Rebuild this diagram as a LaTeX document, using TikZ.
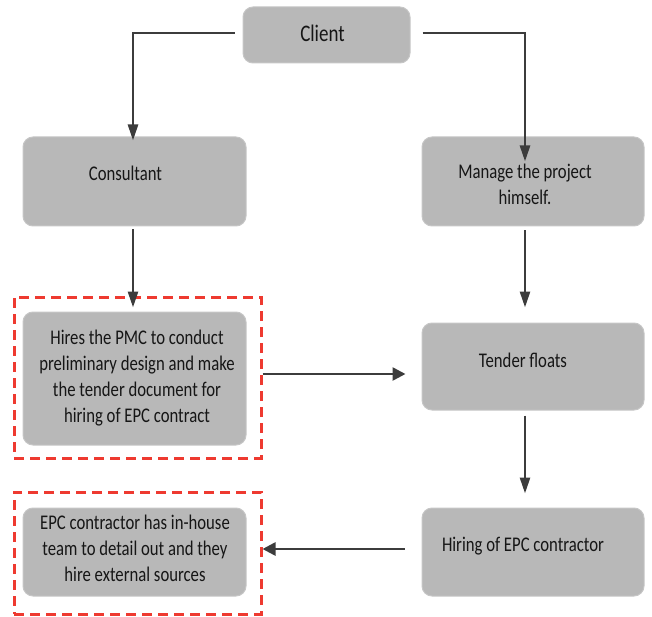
\documentclass[tikz,border=0pt]{standalone}
\usepackage{fontspec}
\setmainfont{Carlito}
\usepackage{graphicx}
\usetikzlibrary{arrows.meta}

\definecolor{boxfill}{HTML}{B8B8B8}
\definecolor{boxedge}{HTML}{C6C6C6}
\definecolor{arrowgray}{HTML}{3C3C3C}
\definecolor{dashred}{HTML}{EE3A30}
\definecolor{inkdark}{HTML}{161616}

% text set slightly tall, as in the chart's typeface
\newcommand\talltext[1]{\scalebox{1}[1.25]{\begin{tabular}{@{}c@{}}#1\end{tabular}}}

\tikzset{
  stepbox/.style={rectangle, rounded corners=10pt, fill=boxfill, draw=boxedge,
    line width=1pt, inner sep=0pt},
  steptext/.style={inner sep=0pt, text=inkdark,
    font=\fontsize{16.7}{20.8}\selectfont},
  groupbox/.style={rectangle, draw=dashred, line width=3pt,
    dash pattern=on 10pt off 6pt, inner sep=0pt},
  flow/.style={draw=arrowgray, line width=2.6pt},
  downarrow/.style={flow, -{Triangle[length=16pt,width=10pt]}},
  sidearrow/.style={flow, -{Triangle[length=13pt,width=13pt]}},
}

\begin{document}
\begin{tikzpicture}[x=1pt, y=-1pt]
\useasboundingbox (0,0) rectangle (652,617);

% main boxes
\node[stepbox, minimum width=167pt, minimum height=56pt] (client) at (326.5,35) {};
\node[stepbox, minimum width=223pt, minimum height=89pt] (consultant) at (134.5,181.5) {};
\node[stepbox, minimum width=222pt, minimum height=89pt] (manage) at (533,181.5) {};
\node[stepbox, minimum width=223pt, minimum height=133pt] (hires) at (134.5,378.5) {};
\node[stepbox, minimum width=222pt, minimum height=87pt] (tender) at (533,366.5) {};
\node[stepbox, minimum width=222pt, minimum height=88pt] (hiring) at (533,552) {};
\node[stepbox, minimum width=223pt, minimum height=88pt] (epc) at (134.5,552) {};

% box texts
\node[steptext, font=\fontsize{19}{23}\selectfont] (client-t) at ([shift={(-4,1)}]client.center) {\talltext{Client}};
\node[steptext] (consultant-t) at ([shift={(-9,-6.5)}]consultant.center) {\talltext{Consultant}};
\node[steptext] (manage-t) at ([shift={(-8,5)}]manage.center) {\talltext{Manage the project\\himself.}};
\node[steptext] (hires-t) at ([shift={(2.5,0)}]hires.center) {\talltext{Hires the PMC to conduct\\preliminary design and make\\the tender document for\\hiring of EPC contract}};
\node[steptext] (tender-t) at ([shift={(-10,-4.5)}]tender.center) {\talltext{Tender floats}};
\node[steptext] (hiring-t) at ([shift={(-10,-6)}]hiring.center) {\talltext{Hiring of EPC contractor}};
\node[steptext] (epc-t) at ([shift={(0.5,-2)}]epc.center) {\talltext{EPC contractor has in-house\\team to detail out and they\\hire external sources}};

% dashed red groups
\node[groupbox, minimum width=247pt, minimum height=161pt] (group1) at (137.5,377.5) {};
\node[groupbox, minimum width=247pt, minimum height=122pt] (group2) at (137.5,553) {};

% connectors
\draw[downarrow] ([shift={(-8,-2)}]client.west) -| ([yshift=-4]consultant.north -| 133,0);
\draw[downarrow] ([shift={(12,-2)}]client.east) -| ([yshift=-25]manage.north -| 525,0);

\draw[downarrow] ([shift={(-1.5,3)}]consultant.south) -- ([shift={(-1.5,-4)}]hires.north);
\draw[downarrow] ([shift={(-8,4)}]manage.south) -- ([shift={(-8,-15)}]tender.north);
\draw[downarrow] ([shift={(-8,5)}]tender.south) -- ([shift={(-8,-14)}]hiring.north);

\draw[sidearrow] (group1.east |- 0,374) -- ([xshift=-16]tender.west |- 0,374);
\draw[sidearrow] ([xshift=-17]hiring.west |- 0,549) -- (group2.east |- 0,549);
\end{tikzpicture}
\end{document}
